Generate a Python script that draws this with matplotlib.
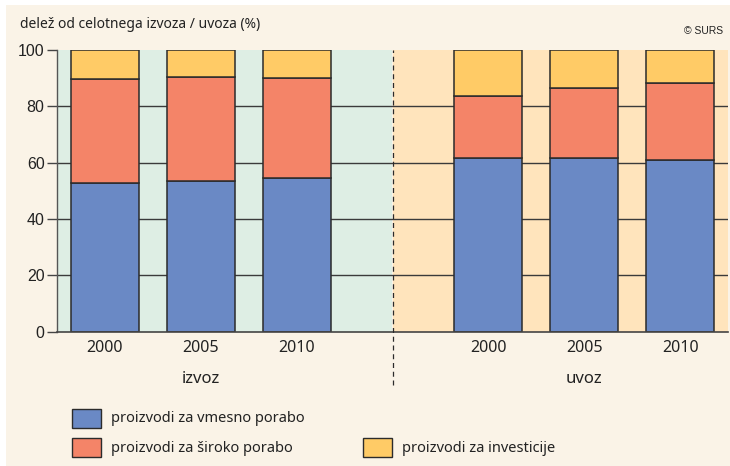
import matplotlib
matplotlib.use("Agg")
import matplotlib.pyplot as plt
from matplotlib.patches import Rectangle
import matplotlib.transforms as mtransforms

# ---- data ----
years = ["2000", "2005", "2010"]
groups = ["izvoz", "uvoz"]
izvoz_vmesno = [52.8, 53.5, 54.4]
izvoz_siroko = [36.9, 36.9, 35.6]
izvoz_invest = [10.3, 9.6, 10.0]
uvoz_vmesno = [61.5, 61.7, 60.9]
uvoz_siroko = [22.3, 24.7, 27.5]
uvoz_invest = [16.2, 13.6, 11.6]
series_labels = ["proizvodi za vmesno porabo", "proizvodi za široko porabo", "proizvodi za investicije"]
yticks = [0, 20, 40, 60, 80, 100]

# ---- style ----
C_BLUE = "#6A89C5"
C_RED = "#F48468"
C_YEL = "#FFCB66"
BG_GREEN = "#DEEEE4"
BG_ORANGE = "#FFE4BC"
BG_PAGE = "#FAF3E7"
DARK = "#2B2B2B"
FONT_TXT = ["Noto Sans", "DejaVu Sans"]
FONT_NUM = ["Liberation Sans", "DejaVu Sans"]

W, H = 730, 466
fig = plt.figure(figsize=(W / 100, H / 100), dpi=100, facecolor="white")
fig.patches.append(Rectangle((6 / W, 0), 1 - 6 / W, 1 - 5 / H, transform=fig.transFigure,
                             facecolor=BG_PAGE, edgecolor="none", zorder=-10))

ax = fig.add_axes([57 / W, 1 - 331.5 / H, (728 - 57) / W, (331.5 - 50) / H])
ax.set_facecolor("none")

pos_izvoz = [0, 1, 2]
pos_uvoz = [4, 5, 6]
bw = 0.71

ax.axvspan(-0.5, 3, color=BG_GREEN, zorder=0, lw=0)
ax.axvspan(3, 6.5, color=BG_ORANGE, zorder=0, lw=0)

for yv in yticks[1:-1]:
    ax.axhline(yv, color="#3a3a3a", lw=1.0, zorder=1)

colors = [C_BLUE, C_RED, C_YEL]
for pos, a, b, c in [(pos_izvoz, izvoz_vmesno, izvoz_siroko, izvoz_invest),
                     (pos_uvoz, uvoz_vmesno, uvoz_siroko, uvoz_invest)]:
    bottoms = [0] * 3
    for vals, col in zip([a, b, c], colors):
        ax.bar(pos, vals, bw, bottom=bottoms, color=col, edgecolor=DARK, lw=1.1, zorder=2)
        bottoms = [bb + v for bb, v in zip(bottoms, vals)]

# divider dashed line
ax.plot([3, 3], [-19, 100], ls=(0, (4, 3)), color=DARK, lw=0.9, clip_on=False, zorder=3)

ax.set_xlim(-0.5, 6.5)
ax.set_ylim(0, 100)
ax.set_yticks(yticks)
ax.set_yticklabels([str(v) for v in yticks], fontfamily=FONT_NUM, fontsize=11.5, color="#222222")
ax.set_xticks(pos_izvoz + pos_uvoz)
ax.set_xticklabels(years + years, fontfamily=FONT_TXT, fontsize=11.5, color="#222222")
ax.tick_params(axis="x", length=0, pad=6)
ax.tick_params(axis="y", length=7, width=1, color="#444444", pad=2)
for s in ["top", "right"]:
    ax.spines[s].set_visible(False)
ax.spines["left"].set_color("#555555")
ax.spines["left"].set_linewidth(1.0)
ax.spines["bottom"].set_color("#444444")
ax.spines["bottom"].set_linewidth(1.2)
ax.spines["bottom"].set_bounds(-0.5, 6.5)

trans = mtransforms.blended_transform_factory(ax.transData, fig.transFigure)
for g, p in zip(groups, [1, 5]):
    ax.text(p, 1 - 379 / H, g, transform=trans, ha="center", va="center",
            fontfamily=FONT_TXT, fontsize=12, color="#222222")

fig.text(20 / W, 1 - 24 / H, "delež od celotnega izvoza / uvoza (%)", ha="left", va="center",
         fontfamily=FONT_TXT, fontsize=10, color="#222222")
fig.text(723 / W, 1 - 31 / H, "© SURS", ha="right", va="center",
         fontfamily=FONT_NUM, fontsize=7.5, color="#222222")

# legend (manual)
leg = [(72, 409, 0), (72, 438, 1), (363, 438, 2)]
for x0, y0, i in leg:
    fig.patches.append(Rectangle((x0 / W, 1 - (y0 + 19) / H), 29 / W, 19 / H, transform=fig.transFigure,
                                 facecolor=colors[i], edgecolor=DARK, lw=1.0))
    fig.text((x0 + 39) / W, 1 - (y0 + 10) / H, series_labels[i], ha="left", va="center",
             fontfamily=FONT_TXT, fontsize=10.5, color="#222222")

fig.savefig("out.png", dpi=100, facecolor=fig.get_facecolor())
